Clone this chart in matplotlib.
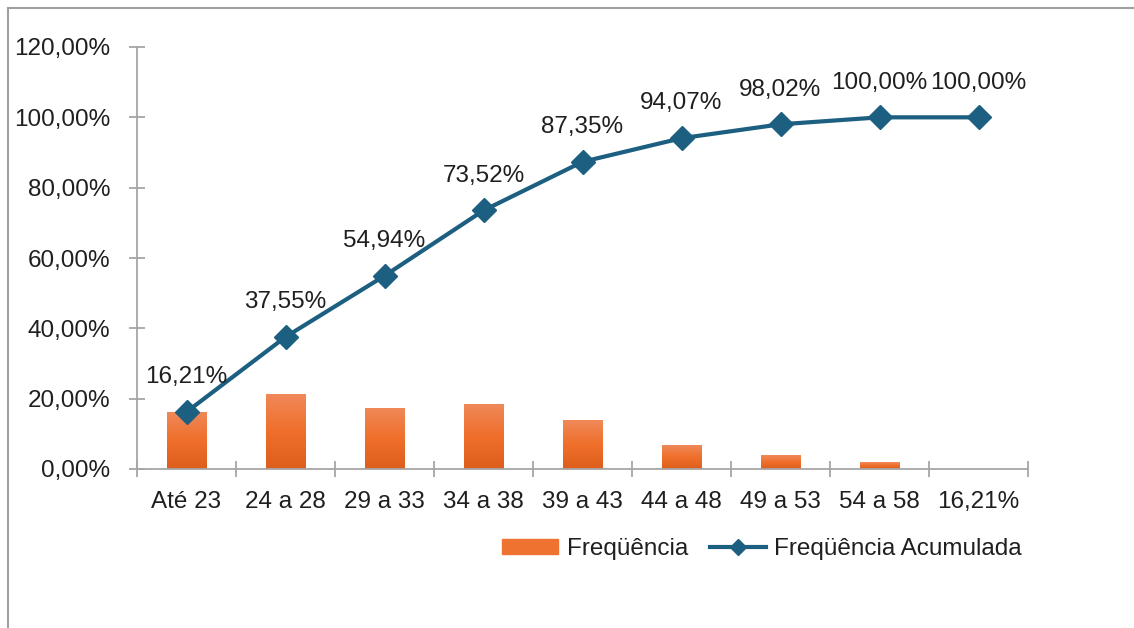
import matplotlib
matplotlib.use("Agg")
import matplotlib.pyplot as plt
import numpy as np
from matplotlib.lines import Line2D
from matplotlib.colors import LinearSegmentedColormap
from matplotlib.ticker import FuncFormatter, FixedLocator

categories = ["Até 23", "24 a 28", "29 a 33", "34 a 38", "39 a 43",
              "44 a 48", "49 a 53", "54 a 58", "16,21%"]
frequencia = [0.1621, 0.2134, 0.1739, 0.1858, 0.1383, 0.0672, 0.0395, 0.0198, 0.0]
acumulada = [0.1621, 0.3755, 0.5494, 0.7352, 0.8735, 0.9407, 0.9802, 1.0000, 1.0000]
yticks = [0.0, 0.2, 0.4, 0.6, 0.8, 1.0, 1.2]

plt.rcParams['font.family'] = ['Liberation Sans', 'DejaVu Sans']
text_color = '#1f1f1f'
axis_color = '#a6a6a6'
line_color = '#1c5f80'
fs = 17.5

fig = plt.figure(figsize=(11.34, 6.28), dpi=100)
ax = fig.add_axes([137/1134, 1-469/628, (1028-137)/1134, (469-47)/628])

x = np.arange(len(categories))
bars = ax.bar(x, frequencia, width=0.4, color='#ee7330', zorder=2, label='Freqüência')

cmap = LinearSegmentedColormap.from_list('og', ['#dd5d1c', '#ef6f2b', '#f0895a'])
grad = np.linspace(0, 1, 256).reshape(-1, 1)
for b in bars:
    h = b.get_height()
    if h <= 0:
        continue
    im = ax.imshow(grad, cmap=cmap, aspect='auto', origin='lower',
                   extent=[b.get_x(), b.get_x() + b.get_width(), 0, h], zorder=2)
    im.set_clip_path(b)
    b.set_facecolor('none')

ax.plot(x, acumulada, color=line_color, lw=3.0, marker='D', markersize=12,
        zorder=3, label='Freqüência Acumulada')

for xi, v in zip(x, acumulada):
    ax.annotate(f"{v*100:.2f}%".replace('.', ','), (xi, v), xytext=(0, 25),
                textcoords='offset points', ha='center', va='center',
                fontsize=fs, color=text_color, zorder=4)

ax.set_xlim(-0.5, len(categories) - 0.5)
ax.set_ylim(0, 1.2)
ax.set_yticks(yticks)
ax.yaxis.set_major_formatter(FuncFormatter(lambda v, p: f"{v*100:.2f}%".replace('.', ',')))
ax.set_xticks(x)
ax.set_xticklabels(categories)
ax.xaxis.set_minor_locator(FixedLocator(np.arange(len(categories) + 1) - 0.5))

ax.tick_params(axis='x', which='major', length=0, pad=16, labelsize=fs, labelcolor=text_color)
ax.tick_params(axis='x', which='minor', length=12, direction='inout', color=axis_color, width=1.3)
ax.tick_params(axis='y', which='major', length=12, direction='inout', color=axis_color, width=1.3,
               pad=13, labelsize=fs, labelcolor=text_color)

for s in ['top', 'right']:
    ax.spines[s].set_visible(False)
for s in ['left', 'bottom']:
    ax.spines[s].set_color(axis_color)
    ax.spines[s].set_linewidth(1.3)

handles = [plt.Rectangle((0, 0), 1, 1, color='#ee7330'),
           Line2D([0], [0], color=line_color, lw=3.0, marker='D', markersize=8)]
fig.legend(handles, ['Freqüência', 'Freqüência Acumulada'], loc='center',
           bbox_to_anchor=(762/1134, 1-549/628), ncol=2, frameon=False,
           fontsize=fs, labelcolor=text_color, handlelength=2.3, handleheight=0.6,
           columnspacing=0.9, handletextpad=0.35)

fig.add_artist(Line2D([8/1134, 8/1134], [0, 1-8/628], transform=fig.transFigure,
                      color='#a0a0a0', lw=1.5))
fig.add_artist(Line2D([8/1134, 1], [1-8/628, 1-8/628], transform=fig.transFigure,
                      color='#a0a0a0', lw=1.5))

fig.savefig('out.png', dpi=100)
